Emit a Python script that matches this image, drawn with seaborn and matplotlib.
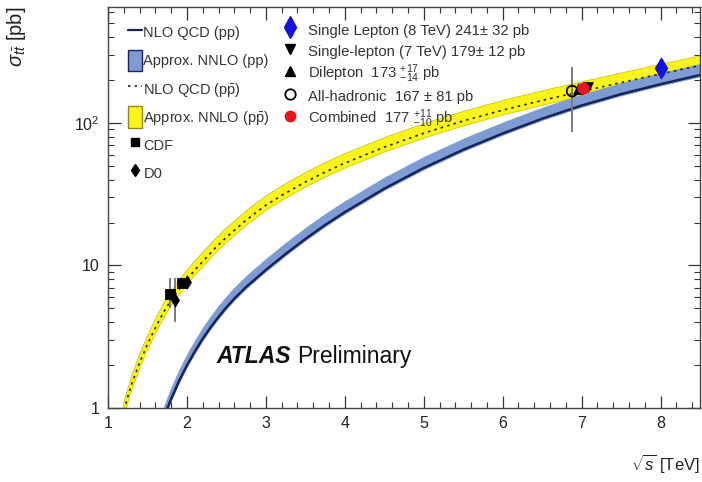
import matplotlib
matplotlib.use("Agg")
import matplotlib.pyplot as plt
from matplotlib.lines import Line2D
from matplotlib.patches import Patch
from matplotlib.ticker import MultipleLocator, LogLocator, FixedLocator, FixedFormatter, NullFormatter
import seaborn as sns

# ---------------------------------------------------------------- theory: p-pbar
sqrt_s_ppbar = [1.15, 1.2, 1.25, 1.3, 1.4, 1.5, 1.6, 1.7, 1.8, 1.9, 2.0, 2.1, 2.2,
                2.35, 2.5, 2.75, 3.0, 3.25, 3.5, 3.75, 4.0, 4.5, 5.0, 5.5, 6.0,
                6.5, 7.0, 7.5, 8.0, 8.5]
nnlo_ppbar_lo = [0.656, 0.885, 1.114, 1.371, 1.936, 2.612, 3.404, 4.335, 5.333, 6.337,
                 7.446, 8.648, 9.93, 12.21, 14.69, 19.36, 24.66, 29.98, 35.81, 42.06,
                 48.63, 62.94, 78.88, 96.11, 114.5, 134.0, 154.9, 178.6, 205.6, 235.5]
nnlo_ppbar_hi = [0.830, 1.12, 1.410, 1.735, 2.451, 3.305, 4.308, 5.486, 6.749, 8.020,
                 9.424, 10.94, 12.57, 15.46, 18.59, 24.51, 31.20, 37.95, 45.32, 53.23,
                 61.54, 79.65, 99.83, 121.6, 144.9, 169.6, 196.0, 226.0, 260.2, 298.0]
nlo_ppbar = [0.704, 0.95, 1.196, 1.472, 2.079, 2.803, 3.654, 4.653, 5.725, 6.803,
             7.993, 9.283, 10.66, 13.11, 15.77, 20.79, 26.47, 32.19, 38.44, 45.15,
             52.20, 67.56, 84.67, 103.2, 122.9, 143.8, 166.3, 191.7, 220.7, 252.8]

# ---------------------------------------------------------------- theory: p-p
sqrt_s_pp = [1.65, 1.7, 1.75, 1.8, 1.9, 2.0, 2.1, 2.2, 2.3, 2.4, 2.5, 2.6, 2.75,
             3.0, 3.25, 3.5, 3.75, 4.0, 4.5, 5.0, 5.5, 6.0, 6.5, 7.0, 7.5, 8.0, 8.5]
nnlo_pp_lo = [0.683, 0.812, 0.965, 1.133, 1.511, 1.947, 2.434, 2.994, 3.6, 4.259,
              4.969, 5.718, 6.907, 9.108, 11.78, 15.00, 18.80, 23.13, 33.82, 47.23,
              63.42, 82.46, 104.8, 129.5, 155.7, 182.9, 212.0]
nnlo_pp_hi = [0.835, 0.992, 1.179, 1.385, 1.847, 2.379, 2.974, 3.660, 4.4, 5.205,
              6.073, 6.988, 8.441, 11.13, 14.40, 18.34, 22.98, 28.27, 41.34, 57.73,
              77.52, 100.8, 128.0, 158.3, 190.3, 223.5, 259.1]
nlo_pp = [0.698, 0.830, 0.986, 1.158, 1.545, 1.990, 2.488, 3.061, 3.68, 4.353,
          5.079, 5.845, 7.060, 9.310, 12.04, 15.34, 19.22, 23.64, 34.57, 48.28,
          64.83, 84.29, 107.1, 132.4, 159.2, 186.9, 216.7]

# ---------------------------------------------------------------- Tevatron measurements
cdf_x = [1.78, 1.94]
cdf_y = [6.3, 7.5]
cdf_err_lo = [1.3, 0.5]
cdf_err_hi = [1.8, 0.5]
d0_x = [1.85, 2.0]
d0_y = [5.7, 7.6]
d0_err_lo = [1.7, 0.7]
d0_err_hi = [2.4, 0.8]

# ---------------------------------------------------------------- LHC measurements
sl8_x, sl8_y, sl8_err = [8.0], [241], [32]
allhad_x, allhad_y, allhad_err = [6.88], [167], [81]
dilep_x, dilep_y, dilep_lo, dilep_hi = [6.95], [173], [14], [17]
comb_x, comb_y, comb_lo, comb_hi = [7.02], [177], [10], [11]
sl7_x, sl7_y, sl7_err = [7.08], [179], [12]

y_ticks = [1, 10, 100]
y_tick_labels = ["1", "10", "10$^2$"]
x_ticks = [1, 2, 3, 4, 5, 6, 7, 8]

# ---------------------------------------------------------------- style
sns.set_theme(style="ticks")
plt.rcParams["font.family"] = ["Liberation Sans", "DejaVu Sans"]
plt.rcParams["mathtext.fontset"] = "custom"
plt.rcParams["mathtext.rm"] = "Liberation Sans"
plt.rcParams["mathtext.it"] = "Liberation Sans:italic"
plt.rcParams["mathtext.bf"] = "Liberation Sans:bold"

YELLOW = "#F9F51A"
YELLOW_EDGE = "#C4C000"
BLUE = "#7E9BD3"
NAVY = "#17245A"
INK = "#222222"
GREY = "#7A7A7A"

fig = plt.figure(figsize=(7.02, 4.82), dpi=100)
ax = fig.add_axes([108 / 702, 74 / 482, 592 / 702, 401 / 482])

# theory bands and lines
ax.fill_between(sqrt_s_ppbar, nnlo_ppbar_lo, nnlo_ppbar_hi, color=YELLOW,
                edgecolor=YELLOW_EDGE, lw=0.5, zorder=1)
ax.fill_between(sqrt_s_pp, nnlo_pp_lo, nnlo_pp_hi, color=BLUE,
                edgecolor=BLUE, lw=0.5, zorder=2)
sns.lineplot(x=sqrt_s_pp, y=nlo_pp, ax=ax, color=NAVY, lw=1.8, zorder=3)
sns.lineplot(x=sqrt_s_ppbar, y=nlo_ppbar, ax=ax, color=INK, lw=1.2,
             linestyle=(0, (1.5, 2.5)), zorder=3)

# Tevatron points
ax.errorbar(cdf_x, cdf_y, yerr=[cdf_err_lo, cdf_err_hi], fmt="none",
            ecolor=GREY, elinewidth=1.4, zorder=4)
ax.errorbar(d0_x, d0_y, yerr=[d0_err_lo, d0_err_hi], fmt="none",
            ecolor=GREY, elinewidth=1.4, zorder=4)
sns.scatterplot(x=cdf_x, y=cdf_y, ax=ax, marker="s", s=55, color="black",
                edgecolor="black", zorder=5)
sns.scatterplot(x=d0_x, y=d0_y, ax=ax, marker="d", s=45, color="black",
                edgecolor="black", zorder=5)

# LHC points
ax.errorbar(allhad_x, allhad_y, yerr=allhad_err, fmt="none", ecolor=GREY,
            elinewidth=1.4, zorder=4)
ax.errorbar(dilep_x, dilep_y, yerr=[dilep_lo, dilep_hi], fmt="none", ecolor=INK,
            elinewidth=1.0, zorder=4)
ax.errorbar(sl7_x, sl7_y, yerr=sl7_err, fmt="none", ecolor=INK, elinewidth=1.0, zorder=4)
ax.errorbar(comb_x, comb_y, yerr=[comb_lo, comb_hi], fmt="none", ecolor="#D01010",
            elinewidth=1.0, zorder=4)
ax.errorbar(sl8_x, sl8_y, yerr=sl8_err, fmt="none", ecolor="#1515D0",
            elinewidth=1.0, zorder=4)
sns.scatterplot(x=allhad_x, y=allhad_y, ax=ax, marker="o", s=60,
                facecolor="none", edgecolor="black", linewidth=1.3, zorder=6)
sns.scatterplot(x=dilep_x, y=dilep_y, ax=ax, marker="^", s=50, color="black",
                edgecolor="black", zorder=6)
sns.scatterplot(x=sl7_x, y=sl7_y, ax=ax, marker="v", s=50, color="black",
                edgecolor="black", zorder=6)
sns.scatterplot(x=comb_x, y=comb_y, ax=ax, marker="o", s=65, color="#E8141E",
                edgecolor="#E8141E", zorder=7)
sns.scatterplot(x=sl8_x, y=sl8_y, ax=ax, marker="d", s=110, color="#1212E0",
                edgecolor="#1212E0", zorder=7)

# axes
ax.set_yscale("log")
ax.set_xlim(1, 8.5)
ax.set_ylim(1, 650)
ax.xaxis.set_major_locator(FixedLocator(x_ticks))
ax.xaxis.set_minor_locator(MultipleLocator(0.2))
ax.yaxis.set_major_locator(FixedLocator(y_ticks))
ax.yaxis.set_major_formatter(FixedFormatter(y_tick_labels))
ax.yaxis.set_minor_locator(LogLocator(base=10, subs=range(2, 10)))
ax.yaxis.set_minor_formatter(NullFormatter())
ax.tick_params(which="both", direction="in", top=True, right=True, colors="#333333",
               labelcolor="#222222", labelsize=11.5)
ax.tick_params(which="major", length=9, width=0.9, pad=6)
ax.tick_params(which="minor", length=4.5, width=0.8)
for sp in ax.spines.values():
    sp.set_color("#444444")
    sp.set_linewidth(1.0)

ax.set_xlabel(r"$\sqrt{s}$ [TeV]", fontsize=12, loc="right", color="#222222")
ax.xaxis.set_label_coords(1.0, -0.11)
ax.set_ylabel(r"$\sigma_{t\bar{t}}$ [pb]", fontsize=14.5, loc="top", color="#222222")
ax.yaxis.set_label_coords(-0.135, 1.0)

ax.text(2.38, 2.07, "ATLAS", fontsize=16.5, fontweight="bold", style="italic",
        color="#111111", va="baseline")
ax.text(3.40, 2.07, "Preliminary", fontsize=16.5, color="#111111", va="baseline")

# legends
left_handles = [
    Line2D([0], [0], color=NAVY, lw=1.6),
    Patch(facecolor=BLUE, edgecolor=NAVY, lw=1.0),
    Line2D([0], [0], color=INK, lw=1.2, linestyle=(0, (1.5, 2.5))),
    Patch(facecolor=YELLOW, edgecolor="#8C8A10", lw=1.0),
    Line2D([0], [0], color="black", marker="s", ms=6, lw=0),
    Line2D([0], [0], color="black", marker="d", ms=6, lw=0),
]
left_labels = [
    "NLO QCD (pp)",
    "Approx. NNLO (pp)",
    r"NLO QCD (p$\bar{\mathrm{p}}$)",
    r"Approx. NNLO (p$\bar{\mathrm{p}}$)",
    "CDF",
    "D0",
]
leg1 = fig.legend(left_handles, left_labels, loc="upper left",
                  bbox_to_anchor=(128 / 702, 1 - 22 / 482), frameon=False,
                  fontsize=10.5, handlelength=0.96, handleheight=1.88,
                  labelspacing=0.46, handletextpad=0.1, borderpad=0,
                  borderaxespad=0, labelcolor="#333333")

right_handles = [
    Line2D([0], [0], color="#1212E0", marker="d", ms=11, lw=0),
    Line2D([0], [0], color="black", marker="v", ms=7.5, lw=0),
    Line2D([0], [0], color="black", marker="^", ms=7.5, lw=0),
    Line2D([0], [0], markerfacecolor="none", markeredgecolor="black", marker="o",
           ms=7.5, mew=1.3, lw=0),
    Line2D([0], [0], color="#E8141E", marker="o", ms=7.5, lw=0),
]
right_labels = [
    "Single Lepton (8 TeV) 241± 32 pb",
    "Single-lepton (7 TeV) 179± 12 pb",
    r"Dilepton  173 ${}^{+17}_{-14}$ pb",
    "All-hadronic  167 ± 81 pb",
    r"Combined  177 ${}^{+11}_{-10}$ pb",
]
leg2 = fig.legend(right_handles, right_labels, loc="upper left",
                  bbox_to_anchor=(282 / 702, 1 - 20 / 482), frameon=False,
                  fontsize=10.7, handlelength=1.1, handleheight=1.73,
                  labelspacing=0.07, handletextpad=0.66, borderpad=0,
                  borderaxespad=0, labelcolor="#333333")

fig.savefig("out.png", dpi=100)
